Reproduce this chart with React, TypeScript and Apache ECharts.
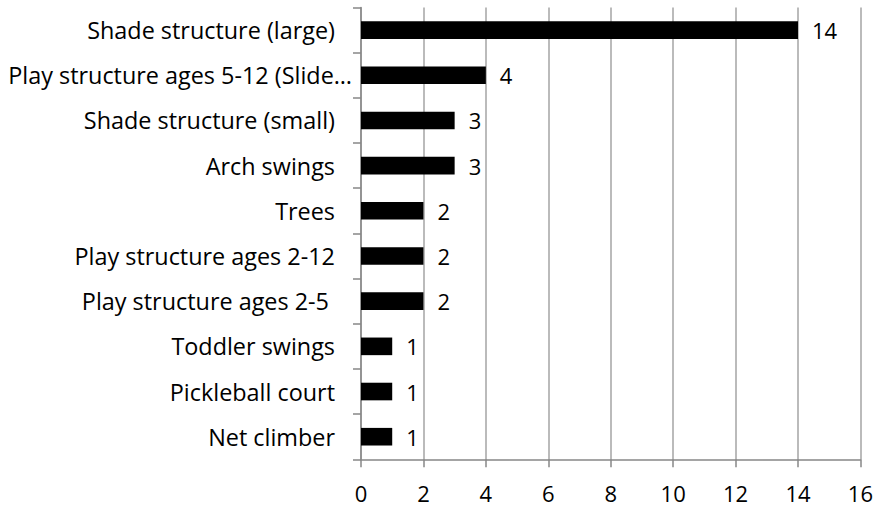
import React, { useEffect, useRef } from "react";
import * as echarts from "echarts";

const categories = [
  "Shade structure (large)",
  "Play structure ages 5-12 (Slide…",
  "Shade structure (small)",
  "Arch swings",
  "Trees",
  "Play structure ages 2-12",
  "Play structure ages 2-5 ",
  "Toddler swings",
  "Pickleball court",
  "Net climber",
];
const values = [14, 4, 3, 3, 2, 2, 2, 1, 1, 1];
const xMin = 0;
const xMax = 16;
const xInterval = 2;

const FONT = "'Open Sans', 'Liberation Sans', sans-serif";

export default function App() {
  const ref = useRef<HTMLDivElement>(null);
  useEffect(() => {
    if (!ref.current) return;
    const chart = echarts.init(ref.current, null, { renderer: "svg" });
    chart.setOption({
      animation: false,
      backgroundColor: "#ffffff",
      grid: { left: 361, right: 14, top: 7.5, bottom: 48.7, containLabel: false },
      xAxis: {
        type: "value",
        min: xMin,
        max: xMax,
        interval: xInterval,
        axisLine: { show: true, lineStyle: { color: "#878787", width: 1.5 } },
        axisTick: { show: true, length: 8, lineStyle: { color: "#878787", width: 1.5 } },
        splitLine: { show: true, lineStyle: { color: "#a5a5a5", width: 1.5 } },
        axisLabel: { color: "#000", fontFamily: FONT, fontSize: 22, margin: 23 },
      },
      yAxis: {
        type: "category",
        data: categories,
        inverse: true,
        axisLine: { show: true, lineStyle: { color: "#878787", width: 1.5 } },
        axisTick: { show: true, length: 8, lineStyle: { color: "#878787", width: 1.5 } },
        splitLine: { show: false },
        axisLabel: {
          color: "#000",
          fontFamily: FONT,
          fontSize: 23.4,
          margin: 9,
          formatter: (v: string) => {
            if (v.endsWith("…")) return `{t|${v}}`;
            if (v.endsWith(" ")) return `{s|${v.trim()}}`;
            return `{n|${v}}`;
          },
          rich: {
            t: { fontFamily: FONT, fontSize: 23.4, color: "#000" },
            n: { fontFamily: FONT, fontSize: 23.4, color: "#000", padding: [0, 17, 0, 0] },
            s: { fontFamily: FONT, fontSize: 23.4, color: "#000", padding: [0, 23, 0, 0] },
          },
        },
      },
      series: [
        {
          type: "bar",
          data: values,
          barCategoryGap: "61%",
          itemStyle: { color: "#000000" },
          label: {
            show: true,
            position: "right",
            distance: 14,
            color: "#000",
            fontFamily: FONT,
            fontSize: 22,
          },
        },
      ],
    });
    return () => chart.dispose();
  }, []);
  return (
    <div
      ref={ref}
      style={{ position: "fixed", left: 0, top: 0, width: 876, height: 508 }}
    />
  );
}
